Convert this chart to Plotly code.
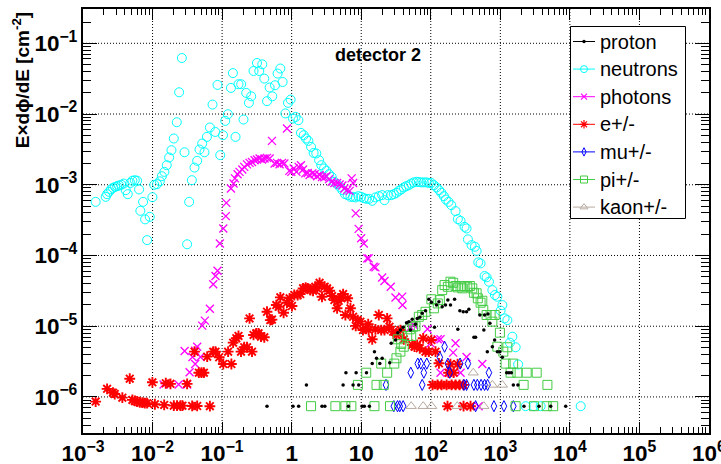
import plotly.graph_objects as go

# ---------------- data ----------------
neutrons_E = [1.52e-3, 2.12e-3, 2.22e-3, 2.37e-3, 2.53e-3, 2.70e-3, 2.89e-3, 3.09e-3, 3.30e-3, 3.56e-3,
              3.85e-3, 4.12e-3, 4.40e-3, 4.80e-3, 5.13e-3, 5.55e-3, 6.0e-3, 6.4e-3, 6.68e-3, 7.31e-3,
              7.81e-3, 8.35e-3, 9.12e-3, 9.95e-3, 1.06e-2, 1.16e-2, 1.27e-2, 1.36e-2, 1.48e-2, 1.60e-2,
              1.73e-2, 1.87e-2, 2.02e-2, 2.23e-2, 2.41e-2, 2.64e-2, 2.88e-2, 3.14e-2, 3.36e-2, 3.67e-2,
              4.01e-2, 4.38e-2, 4.73e-2, 5.17e-2, 5.58e-2, 6.04e-2, 6.67e-2, 7.28e-2, 7.96e-2, 8.59e-2,
              9.4e-2, 0.103, 0.111, 0.121, 0.134, 0.143, 0.156, 0.172, 0.188, 0.203,
              0.222, 0.243, 0.262, 0.283, 0.317, 0.342, 0.378, 0.404, 0.442, 0.482,
              0.526, 0.576, 0.628, 0.687, 0.741, 0.811, 0.885, 0.966, 1.045, 1.14,
              1.25, 1.36, 1.49, 1.61, 1.74, 1.90, 2.07, 2.26, 2.48, 2.67,
              2.92, 3.16, 3.45, 3.76, 4.11, 4.50, 4.90, 5.36, 5.86, 6.39,
              7.0, 7.64, 8.34, 9.12, 9.98, 10.9, 11.9, 13.0, 14.4, 16.0,
              17.9, 20.0, 21.6, 24.1, 27.0, 29.4, 32.1, 34.7, 37.6, 40.9,
              44.4, 48.3, 52.3, 57.0, 62.4, 67.3, 72.9, 79.4, 86.9, 93.8,
              101.6, 111, 121, 132, 142, 154, 165, 180, 197, 227,
              245, 268, 306, 327, 342, 386, 431, 456, 482, 520,
              594, 635, 686, 768, 836, 906, 1069, 1009, 1153, 1262,
              1489, 1374, 1660, 1803, 2312, 3013, 3800, 14300]
neutrons_flux = [5.73e-4, 6.75e-4, 7.36e-4, 7.94e-4, 8.59e-4, 9.04e-4, 9.33e-4, 9.55e-4, 9.77e-4, 9.98e-4,
                 1.04e-3, 8.39e-4, 7.36e-4, 1.06e-3, 1.14e-3, 1.16e-3, 1.14e-3, 8.59e-4, 4.28e-4, 5.73e-4,
                 3.24e-4, 1.65e-4, 3.52e-4, 6.68e-4, 9.98e-4, 1.02e-3, 1.12e-3, 1.32e-3, 1.52e-3, 1.89e-3,
                 2.43e-3, 3.08e-3, 4.51e-3, 7.66e-3, 2.03e-2, 6.19e-2, 2.88e-3, 1.44e-4, 5.73e-4, 1.16e-3,
                 1.75e-3, 2.18e-3, 3.15e-3, 3.83e-3, 2.88e-3, 4.75e-3, 6.45e-3, 1.36e-2, 5.58e-3, 2.58e-2,
                 2.62e-3, 5.02e-3, 8.0e-3, 9.93e-3, 2.34e-2, 3.79e-2, 4.75e-3, 2.64e-2, 2.64e-2, 8.36e-3,
                 1.99e-2, 1.44e-2, 1.78e-2, 4.06e-2, 5.27e-2, 4.06e-2, 5.05e-2, 3.17e-2, 1.52e-2, 2.37e-2,
                 1.78e-2, 2.55e-2, 3.73e-2, 4.4e-2, 2.84e-2, 1.02e-2, 1.44e-2, 1.6e-2, 8.64e-3, 9.1e-3,
                 8.18e-3, 5.41e-3, 5.02e-3, 4.51e-3, 4.17e-3, 3.43e-3, 2.82e-3, 2.77e-3, 2.22e-3, 1.89e-3,
                 1.70e-3, 1.57e-3, 1.41e-3, 1.29e-3, 1.10e-3, 1.02e-3, 9.33e-4, 8.39e-4, 7.36e-4, 7.13e-4,
                 6.75e-4, 6.75e-4, 6.62e-4, 6.9e-4, 6.75e-4, 6.47e-4, 6.32e-4, 6.32e-4, 5.93e-4, 6.62e-4,
                 6.9e-4, 7.13e-4, 6.06e-4, 7.13e-4, 7.13e-4, 7.36e-4, 7.69e-4, 8.2e-4, 8.59e-4, 9.16e-4,
                 9.55e-4, 9.86e-4, 1.04e-3, 1.08e-3, 1.10e-3, 1.09e-3, 1.08e-3, 1.08e-3, 1.08e-3, 1.06e-3,
                 1.06e-3, 9.86e-4, 9.16e-4, 8.39e-4, 7.69e-4, 6.9e-4, 6.19e-4, 5.73e-4, 5.15e-4, 4.24e-4,
                 3.27e-4, 3.09e-4, 2.54e-4, 2.41e-4, 1.69e-4, 1.40e-4, 1.33e-4, 1.16e-4, 8.0e-5, 7.73e-5,
                 5.12e-5, 4.91e-5, 4.26e-5, 3.24e-5, 2.76e-5, 2.61e-5, 1.99e-5, 1.66e-5, 1.29e-5, 1.22e-5,
                 7.11e-6, 5.85e-6, 5.04e-6, 2.88e-6, 7.4e-7, 7.4e-7, 7.4e-7, 7.4e-7]

photons_E = [1.44e-2, 2.37e-2, 3.14e-2, 2.89e-2, 3.41e-2, 3.75e-2, 4.10e-2, 4.38e-2, 4.10e-2, 4.89e-2,
             5.17e-2, 5.65e-2, 6.67e-2, 7.45e-2, 8.04e-2, 8.59e-2, 9.29e-2, 0.104, 0.113, 0.115,
             0.134, 0.146, 0.153, 0.167, 0.178, 0.195, 0.208, 0.228, 0.248, 0.269,
             0.293, 0.317, 0.346, 0.374, 0.408, 0.442, 0.482, 0.521, 0.568, 0.615,
             0.671, 0.727, 0.784, 0.857, 0.925, 0.989, 1.07, 1.17, 1.26, 1.36,
             1.46, 1.57, 1.70, 1.81, 1.98, 2.14, 2.32, 2.52, 2.73, 2.95,
             3.15, 3.45, 3.76, 4.11, 4.50, 4.90, 5.36, 5.73, 6.27, 6.82,
             7.29, 7.64, 8.34, 9.18, 9.98, 10.9, 12.2, 12.8, 15.1, 16.0,
             20.0, 21.6, 26.6, 31.1, 38.8, 39.2, 51.1, 57, 89.8, 99.1,
             126, 138, 227, 210, 327, 551, 138, 192, 268, 296, 487]
photons_flux = [1.5e-6, 1.5e-6, 1.5e-6, 4.47e-6, 2.23e-6, 3.67e-6, 4.51e-6, 5.13e-6, 2.92e-6, 3.67e-6,
                1.02e-5, 1.20e-5, 1.77e-5, 3.91e-5, 5.12e-5, 6.08e-5, 1.48e-4, 2.41e-4, 3.6e-4, 5.55e-4,
                8.87e-4, 1.04e-3, 1.23e-3, 1.41e-3, 1.52e-3, 1.64e-3, 1.79e-3, 1.94e-3, 2.04e-3, 2.10e-3,
                2.22e-3, 2.28e-3, 2.35e-3, 2.28e-3, 2.35e-3, 2.40e-3, 2.35e-3, 4.17e-3, 2.0e-3, 2.04e-3,
                1.95e-3, 2.04e-3, 2.0e-3, 6.24e-3, 1.57e-3, 1.52e-3, 1.70e-3, 1.52e-3, 1.79e-3, 1.89e-3,
                1.64e-3, 1.45e-3, 1.47e-3, 1.37e-3, 1.45e-3, 1.41e-3, 1.32e-3, 1.37e-3, 1.29e-3, 1.27e-3,
                1.32e-3, 1.20e-3, 1.10e-3, 1.06e-3, 1.06e-3, 1.01e-3, 9.77e-4, 8.87e-4, 8.39e-4, 8.2e-4,
                1.23e-3, 1.06e-3, 3.94e-4, 2.38e-4, 1.75e-4, 1.48e-4, 9.1e-5, 9.1e-5, 6.92e-5, 6.79e-5,
                4.88e-5, 4.35e-5, 3.61e-5, 2.54e-5, 2.62e-5, 1.99e-5, 9.64e-6, 1.04e-5, 9.12e-6, 5.73e-6,
                6.53e-6, 6.53e-6, 5.73e-6, 4.23e-6, 3.67e-6, 2.92e-6, 2.2e-6, 2.2e-6, 2.2e-6, 7.4e-7, 7.4e-7]

electrons_E = [1.52e-3, 2.22e-3, 2.70e-3, 2.86e-3, 3.68e-3, 4.70e-3, 5.13e-3, 5.55e-3, 6.0e-3, 6.55e-3,
               7.14e-3, 7.73e-3, 8.35e-3, 9.95e-3, 1.08e-2, 1.47e-2, 1.55e-2, 1.81e-2, 2.02e-2, 2.25e-2,
               2.52e-2, 2.69e-2, 3.14e-2, 3.71e-2, 4.38e-2, 4.01e-2, 4.63e-2, 5.05e-2, 5.47e-2, 6.10e-2,
               6.67e-2, 7.45e-2, 8.04e-2, 9.08e-2, 0.104, 0.122, 0.136, 0.144, 0.160, 0.172,
               0.187, 0.208, 0.228, 0.248, 0.269, 0.283, 0.310, 0.334, 0.362, 0.404,
               0.442, 0.493, 0.521, 0.601, 0.649, 0.687, 0.766, 0.857, 0.935, 1.01,
               1.09, 1.22, 1.33, 1.46, 1.59, 1.70, 1.86, 2.03, 2.19, 2.32,
               2.52, 2.73, 2.98, 3.23, 3.52, 3.81, 4.11, 4.50, 4.74, 5.14,
               5.49, 5.92, 6.39, 7.0, 7.64, 8.34, 8.91, 9.73, 10.6, 11.5,
               12.6, 12.8, 14.4, 16.0, 17.9, 19.4, 21.6, 23.6, 25.5, 28.8,
               32.1, 36.6, 40.9, 54.1, 58.3, 63.8, 69.5, 77.8, 84, 93.8,
               102, 117, 131, 192, 243, 180, 213,
               106, 125, 143, 169, 199, 227, 259, 296, 174, 296, 373]
electrons_flux = [8.59e-7, 1.30e-6, 1.15e-6, 1.10e-6, 9.77e-7, 1.81e-6, 9.08e-7, 8.79e-7, 8.59e-7, 8.41e-7,
                  8.32e-7, 8.15e-7, 8.15e-7, 1.61e-6, 7.88e-7, 7.71e-7, 1.56e-6, 1.53e-6, 7.53e-7, 7.53e-7,
                  7.53e-7, 7.53e-7, 1.53e-6, 7.45e-7, 7.45e-7, 4.37e-6, 2.2e-6, 2.2e-6, 2.2e-6, 3.71e-6,
                  7.4e-7, 4.37e-6, 4.37e-6, 3.64e-6, 2.92e-6, 4.37e-6, 2.92e-6, 5.85e-6, 6.75e-6, 7.28e-6,
                  4.37e-6, 5.04e-6, 5.04e-6, 1.29e-5, 4.37e-6, 7.52e-6, 7.94e-6, 7.94e-6, 7.11e-6, 6.97e-6,
                  1.60e-5, 1.22e-5, 1.24e-5, 1.99e-5, 1.88e-5, 2.56e-5, 1.55e-5, 2.15e-5, 2.48e-5, 1.93e-5,
                  2.76e-5, 2.76e-5, 2.85e-5, 3.43e-5, 3.5e-5, 3.43e-5, 3.24e-5, 3.17e-5, 3.61e-5, 3.43e-5,
                  4.11e-5, 2.61e-5, 3.61e-5, 3.43e-5, 3.17e-5, 2.67e-5, 2.34e-5, 1.79e-5, 2.29e-5, 2.56e-5,
                  2.85e-5, 1.44e-5, 2.48e-5, 1.79e-5, 1.36e-5, 1.01e-5, 1.22e-5, 1.16e-5, 8.83e-6, 9.33e-6,
                  1.07e-5, 8.83e-6, 6.53e-6, 9.04e-6, 1.44e-5, 8.83e-6, 8.83e-6, 1.29e-5, 9.84e-6, 8.36e-6,
                  7.52e-6, 8.83e-6, 6.53e-6, 5.42e-6, 5.13e-6, 5.42e-6, 4.88e-6, 6.75e-6, 4.37e-6, 4.37e-6,
                  6.38e-6, 4.37e-6, 2.99e-6, 2.9e-6, 2.9e-6, 2.2e-6, 2.2e-6,
                  1.48e-6, 1.48e-6, 1.48e-6, 1.48e-6, 1.48e-6, 1.48e-6, 1.48e-6, 1.48e-6, 7.4e-7, 7.4e-7, 7.4e-7]

protons_E = [0.442, 1.045, 1.26, 1.63, 2.73, 3.0, 5.49, 6.03, 6.54, 7.64,
             8.45, 9.2, 10.3, 11.1, 11.9, 13.1, 14.4, 15.5, 16.6, 18.5,
             20.0, 25.7, 27.0, 31.1, 33.6, 36.6, 40.1, 44.8, 48.3, 51.1,
             54.1, 60.3, 63.8, 69.5, 75.3, 84, 93.8, 102, 113, 121,
             131, 146, 163, 176, 192, 220, 245, 262, 293, 327,
             353, 417, 441, 508, 594, 580, 664, 708, 828, 650,
             768, 906, 986, 1069, 1233, 1330, 1439, 1538, 1791, 2188,
             3597, 5297, 8710]
protons_flux = [7.4e-7, 7.4e-7, 7.4e-7, 1.48e-6, 7.4e-7, 7.4e-7, 1.48e-6, 2.2e-6, 7.4e-7, 1.48e-6,
                2.2e-6, 1.48e-6, 7.4e-7, 7.4e-7, 2.2e-6, 7.4e-7, 2.96e-6, 4.37e-6, 3.52e-6, 2.96e-6,
                3.52e-6, 3.05e-6, 5.73e-6, 6.38e-6, 8.1e-6, 8.83e-6, 9.64e-6, 1.12e-5, 1.16e-5, 8.83e-6,
                1.25e-5, 1.07e-5, 1.29e-5, 1.34e-5, 1.52e-5, 1.66e-5, 2.40e-5, 2.18e-5, 9.64e-6, 1.99e-5,
                2.22e-5, 1.88e-5, 1.99e-5, 2.34e-5, 1.99e-5, 2.40e-5, 9.04e-6, 1.66e-5, 1.60e-5, 1.60e-5,
                1.73e-5, 6.97e-6, 6.97e-6, 1.44e-5, 1.44e-5, 8.83e-6, 1.49e-5, 1.10e-5, 6.38e-6, 4.37e-6,
                5.13e-6, 4.37e-6, 4.37e-6, 3.64e-6, 2.2e-6, 2.2e-6, 2.2e-6, 1.48e-6, 1.48e-6, 7.4e-7,
                7.4e-7, 7.4e-7, 7.4e-7]

pions_E = [1.90, 4.25, 5.92, 7.22, 8.96, 11.8, 15.5, 16.6, 21.1, 25.9,
           19.4, 23.6, 29.9, 32.1, 36.6, 33.6, 37.6, 40.9, 45.8, 52.3,
           49.9, 55.8, 60.3, 67.3, 75.3, 84, 102, 111, 126, 135,
           146, 158, 176, 192, 210, 227, 245, 268, 284, 306,
           335, 365, 395, 417, 456, 475, 520, 551, 569, 635,
           725, 768, 828, 986, 906, 1104, 1262, 1191, 1528, 1406,
           1758, 2393, 3334, 2163, 4753, 1660, 3048, 5754, 4645]
pions_flux = [7.4e-7, 7.4e-7, 7.4e-7, 7.4e-7, 1.48e-6, 2.2e-6, 7.4e-7, 1.48e-6, 1.48e-6, 7.4e-7,
              2.96e-6, 2.2e-6, 2.96e-6, 3.52e-6, 4.37e-6, 6.53e-6, 5.61e-6, 5.13e-6, 7.28e-6, 7.28e-6,
              9.04e-6, 9.84e-6, 1.0e-5, 1.36e-5, 1.44e-5, 1.60e-5, 2.40e-5, 1.79e-5, 2.10e-5, 2.34e-5,
              3.24e-5, 3.82e-5, 3.61e-5, 4.26e-5, 4.11e-5, 3.70e-5, 3.54e-5, 3.70e-5, 3.43e-5, 3.70e-5,
              3.61e-5, 3.70e-5, 3.43e-5, 2.97e-5, 2.92e-5, 2.48e-5, 2.15e-5, 2.29e-5, 1.69e-5, 1.44e-5,
              1.44e-5, 1.16e-5, 1.44e-5, 8.1e-6, 5.13e-6, 4.37e-6, 5.04e-6, 2.96e-6, 2.96e-6, 2.2e-6,
              2.2e-6, 2.2e-6, 2.2e-6, 1.48e-6, 1.48e-6, 7.4e-7, 7.4e-7, 7.4e-7, 7.4e-7]

muons_E = [22.7, 29.4, 33.2, 35.8, 40.1, 51.6, 65, 71.9, 75.3, 79.4,
           87.7, 135, 158, 176, 188, 264, 342, 299, 327, 417,
           467, 529, 594, 656, 686, 441, 809, 1127, 1538]
muons_flux = [1.48e-6, 7.4e-7, 7.4e-7, 7.4e-7, 7.4e-7, 2.2e-6, 2.96e-6, 2.96e-6, 1.48e-6, 2.2e-6,
              2.96e-6, 3.64e-6, 5.13e-6, 2.96e-6, 2.2e-6, 2.96e-6, 2.96e-6, 1.48e-6, 1.48e-6, 1.48e-6,
              1.48e-6, 1.48e-6, 1.48e-6, 1.48e-6, 2.2e-6, 7.4e-7, 7.4e-7, 7.4e-7, 7.4e-7]

kaons_E = [52.3, 77.8, 103, 240, 580, 408, 768, 1069]
kaons_flux = [7.4e-7, 7.4e-7, 7.4e-7, 7.4e-7, 7.4e-7, 2.2e-6, 1.48e-6, 1.48e-6]

series_names = ["proton", "neutrons", "photons", "e+/-", "mu+/-", "pi+/-", "kaon+/-"]
panel_label = "detector 2"
y_title = "E×dϕ/dE [cm<sup>-2</sup>]"
x_log_range = [-3, 6.0001]
y_log_range = [-6.51, -0.515]

for a, b in [(neutrons_E, neutrons_flux), (photons_E, photons_flux), (electrons_E, electrons_flux),
             (protons_E, protons_flux), (pions_E, pions_flux), (muons_E, muons_flux), (kaons_E, kaons_flux)]:
    assert len(a) == len(b), (len(a), len(b))

# ---------------- styles ----------------
styles = {
    "proton":   dict(color="black",   symbol="circle",            size=3.5, lw=0),
    "neutrons": dict(color="#00FFFF", symbol="circle-open",       size=9,   lw=1),
    "photons":  dict(color="#FF00FF", symbol="x-thin-open",       size=8,   lw=1.3),
    "e+/-":     dict(color="#FF0000", symbol="asterisk-open",     size=9,   lw=1.9),
    "mu+/-":    dict(color="#0000FF", symbol="diamond-tall-open", size=8,   lw=1),
    "pi+/-":    dict(color="#44CC44", symbol="square-open",       size=9,   lw=1),
    "kaon+/-":  dict(color="#B8AAA0", symbol="triangle-up-open",  size=9,   lw=1),
}
data_map = {
    "proton": (protons_E, protons_flux),
    "neutrons": (neutrons_E, neutrons_flux),
    "photons": (photons_E, photons_flux),
    "e+/-": (electrons_E, electrons_flux),
    "mu+/-": (muons_E, muons_flux),
    "pi+/-": (pions_E, pions_flux),
    "kaon+/-": (kaons_E, kaons_flux),
}

fig = go.Figure()
draw_order = ["neutrons", "photons", "e+/-", "mu+/-", "pi+/-", "kaon+/-", "proton"]
for name in draw_order:
    s = styles[name]
    x, y = data_map[name]
    fig.add_trace(go.Scatter(
        x=x, y=y, mode="markers", showlegend=False, name=name,
        marker=dict(symbol=s["symbol"], size=s["size"], color=s["color"],
                    line=dict(color=s["color"], width=s["lw"]))))

# ---------------- dotted decade grid (drawn as shapes so the legend box can hide it) ----------------
grid_line = dict(color="black", width=1, dash="1px,2px")
for k in range(-2, 6):
    xf = (k - x_log_range[0]) / (x_log_range[1] - x_log_range[0])
    fig.add_shape(type="line", xref="x domain", yref="y domain", x0=xf, x1=xf, y0=0, y1=1,
                  line=grid_line, layer="below")
for k in range(-6, 0):
    yf = (k - y_log_range[0]) / (y_log_range[1] - y_log_range[0])
    fig.add_shape(type="line", xref="x domain", yref="y domain", x0=0, x1=1, y0=yf, y1=yf,
                  line=grid_line, layer="below")

# ---------------- legend box (ROOT TLegend look) ----------------
PX0, PX1, PY0, PY1 = 83.0, 709.0, 9.0, 433.0   # plot area in pixels
def fx(px):
    return (px - PX0) / (PX1 - PX0)
def fy(py):
    return (PY1 - py) / (PY1 - PY0)

LEG_LEFT, LEG_RIGHT, LEG_TOP, LEG_BOTTOM = 570.5, 685.5, 26.5, 218.5
ROW0, ROW_STEP = 41.5, 27.6
SYM_X0, SYM_X1, TXT_X = 573, 595, 598

fig.add_shape(type="rect", xref="x domain", yref="y domain",
              x0=fx(LEG_LEFT), x1=fx(LEG_RIGHT), y0=fy(LEG_TOP), y1=fy(LEG_BOTTOM),
              line=dict(color="black", width=1), fillcolor="white", layer="below")
for i, name in enumerate(series_names):
    s = styles[name]
    yc = ROW0 + i * ROW_STEP
    fig.add_shape(type="line", xref="x domain", yref="y domain",
                  x0=fx(SYM_X0), x1=fx(SYM_X1), y0=fy(yc), y1=fy(yc),
                  line=dict(color=s["color"], width=1), layer="below")
    fig.add_trace(go.Scatter(
        x=[fx((SYM_X0 + SYM_X1) / 2)], y=[fy(yc)], xaxis="x2", yaxis="y2", mode="markers",
        showlegend=False, hoverinfo="skip",
        marker=dict(symbol=s["symbol"], size=max(s["size"] - 2, 3.5), color=s["color"],
                    line=dict(color=s["color"], width=min(s["lw"], 1.2)))))
    fig.add_annotation(text=name, xref="x domain", yref="y domain", x=fx(TXT_X), y=fy(yc),
                       xanchor="left", yanchor="middle", showarrow=False,
                       font=dict(family="Liberation Sans", size=20, color="black"))

tickfont = dict(family="Liberation Sans", size=18, color="black", weight="bold")
common = dict(type="log", exponentformat="power", showgrid=False,
              ticks="inside", tickcolor="black", tickwidth=1,
              showline=True, linewidth=2, linecolor="black", mirror="allticks",
              zeroline=False, tickfont=tickfont, dtick=1, automargin=False)

fig.update_xaxes(range=x_log_range, ticklen=11, ticklabeloverflow="allow",
                 minor=dict(ticks="inside", ticklen=6, tickcolor="black", showgrid=False, dtick="D1"),
                 **common)
fig.update_yaxes(range=y_log_range, ticklen=14,
                 minor=dict(ticks="inside", ticklen=8, tickcolor="black", showgrid=False, dtick="D1"),
                 **common)

fig.add_annotation(text=panel_label, xref="paper", yref="paper", x=0.471, y=0.92,
                   showarrow=False, font=dict(family="Liberation Sans", size=18, color="black", weight="bold"))
fig.add_annotation(text=y_title, xref="paper", yref="paper", x=-0.1, y=0.998, xanchor="center",
                   yanchor="top", textangle=-90, showarrow=False,
                   font=dict(family="Liberation Sans", size=19, color="black", weight="bold"))

fig.update_layout(
    width=721, height=464,
    margin=dict(l=83, r=12, t=9, b=31, autoexpand=False),
    paper_bgcolor="white", plot_bgcolor="white",
    showlegend=False,
    xaxis2=dict(overlaying="x", range=[0, 1], visible=False, fixedrange=True, automargin=False),
    yaxis2=dict(overlaying="y", range=[0, 1], visible=False, fixedrange=True, automargin=False),
)

fig.write_html("out.html")
